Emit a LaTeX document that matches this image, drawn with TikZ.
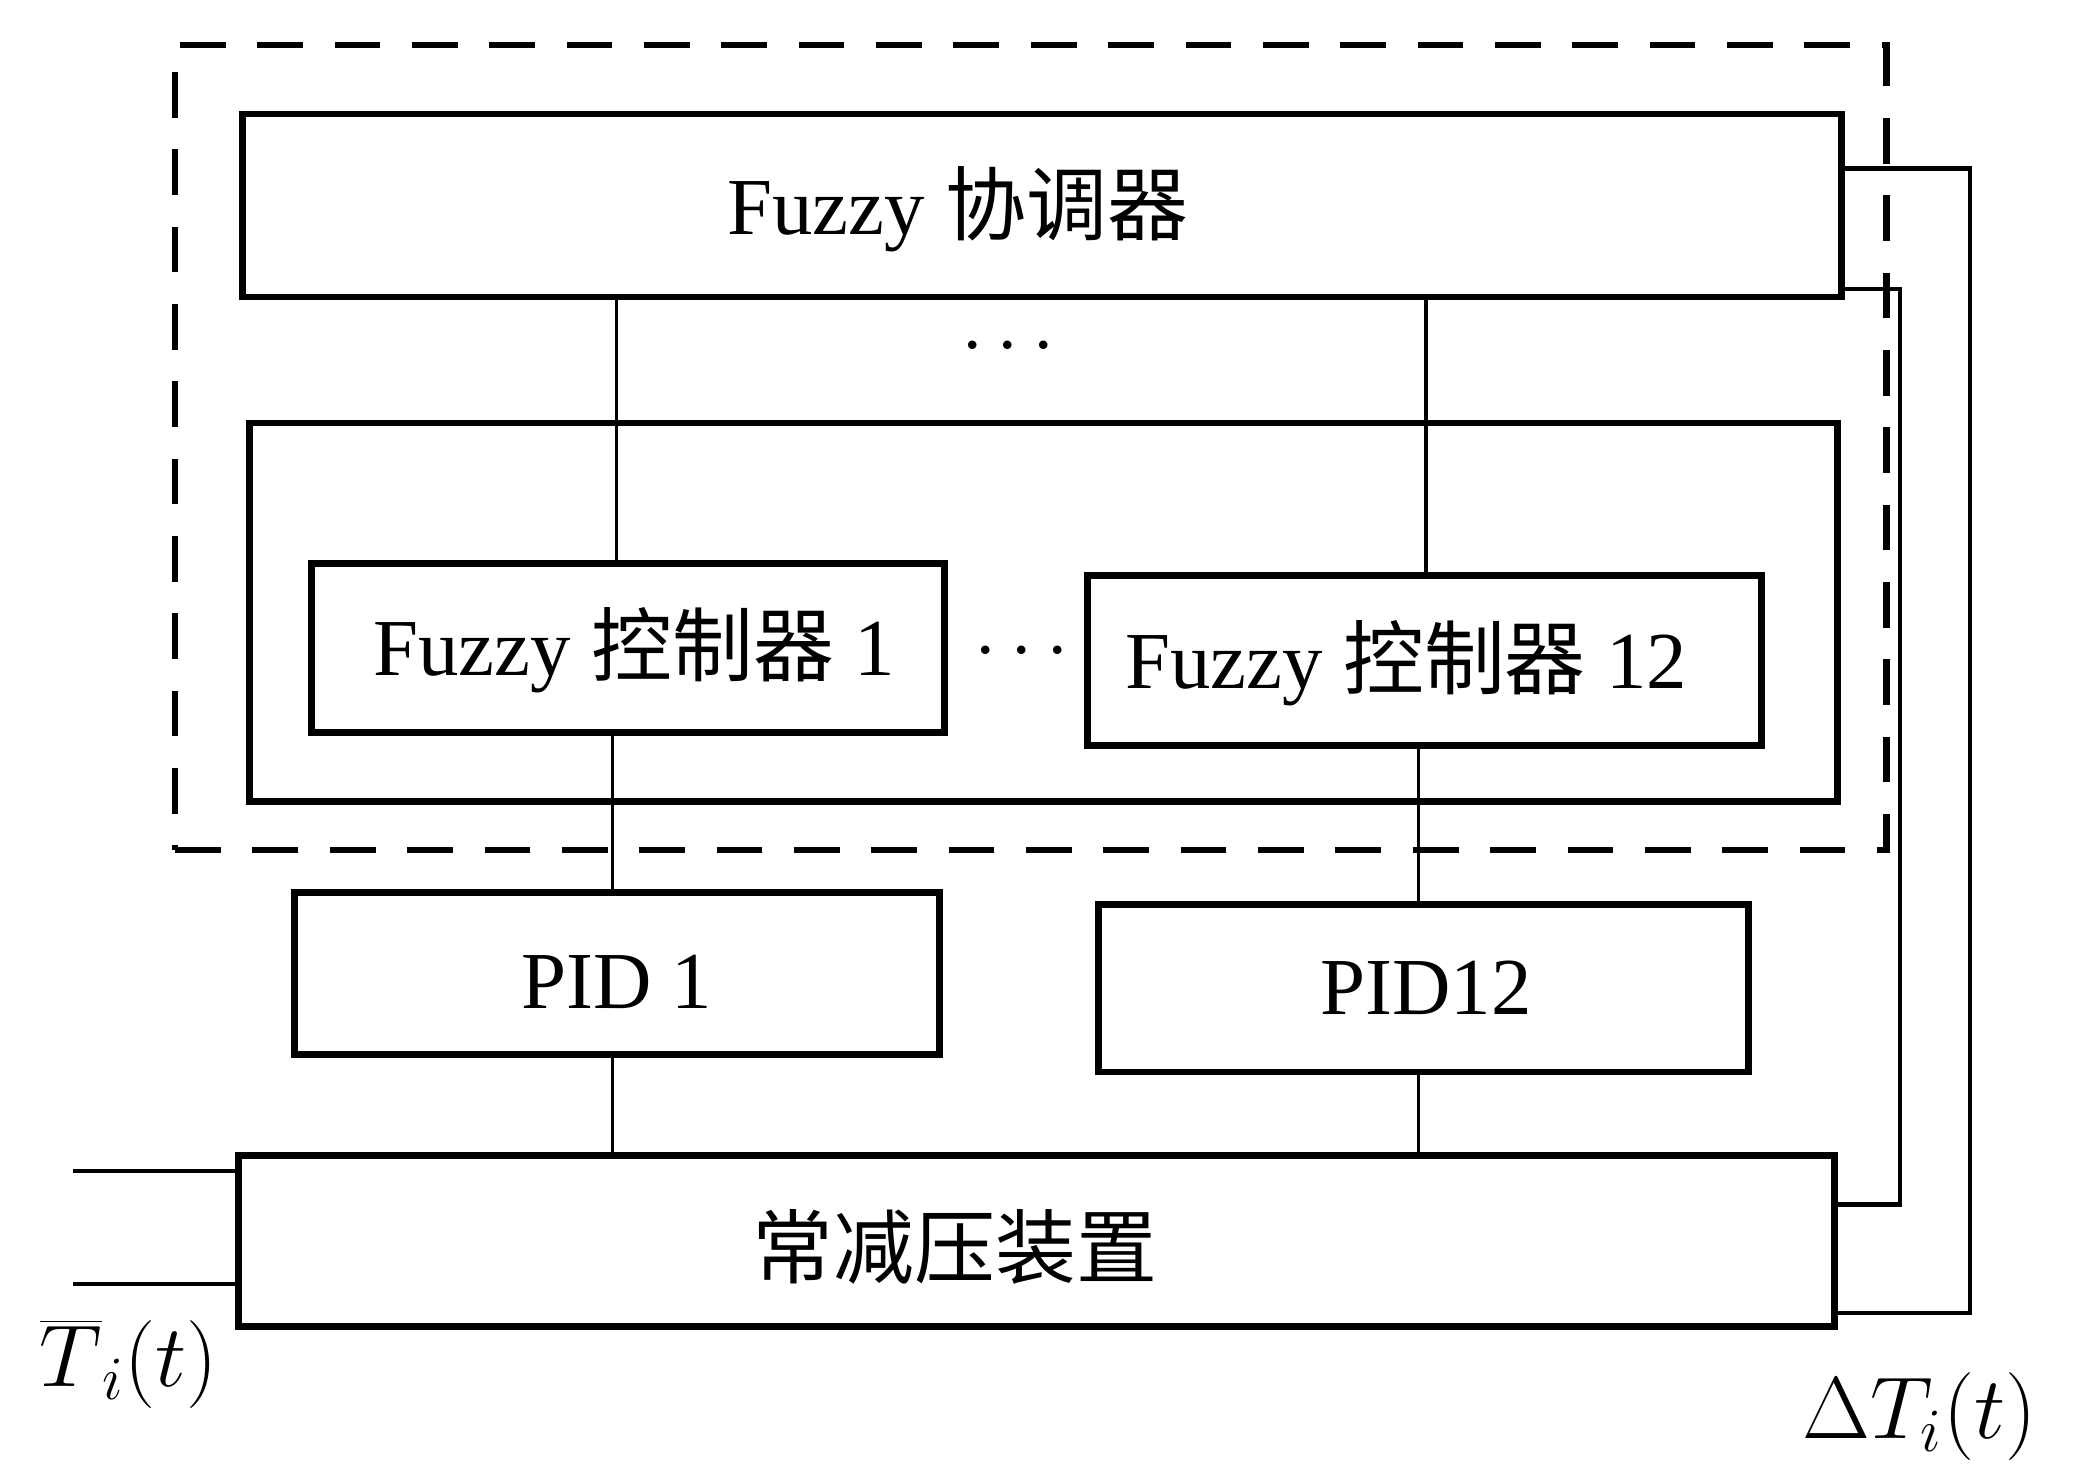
\documentclass[tikz,border=0pt]{standalone}
\usepackage{fix-cm}
\usepackage{fontspec}
\setmainfont{Liberation Serif}
\newfontfamily\cjk{Noto Sans CJK SC}
\usetikzlibrary{fit}
\begin{document}
\begin{tikzpicture}[x=0.013265cm, y=-0.013265cm,
  box/.style={draw, line width=1.9pt, inner sep=0pt},
  dashbox/.style={draw, line width=1.8pt, dash pattern=on 13pt off 9pt, inner sep=0pt},
  conn/.style={line width=0.9pt},
  fb/.style={line width=1.2pt},
  txt/.style={font=\fontsize{23}{27}\selectfont, inner sep=0pt},
  lbl/.style={font=\fontsize{25}{30}\selectfont, inner sep=0pt}]
\useasboundingbox (0,0) rectangle (1568,1104);
% dashed group
\node[dashbox, fit={(132,34) (1422,641)}] (group) {};
% boxes
\node[box, fit={(183,86) (1388,224)}] (coord) {};
\node[box, fit={(188,319) (1385,604)}] (inner) {};
\node[box, fit={(235,425) (712,552)}] (fc1) {};
\node[box, fit={(820,434) (1328,562)}] (fc12) {};
\node[box, fit={(222,673) (708,795)}] (pid1) {};
\node[box, fit={(828,682) (1318,808)}] (pid12) {};
\node[box, fit={(180,871) (1383,1000)}] (dev) {};
% texts
\node[txt] (coordtxt) at (722,158) {Fuzzy {\cjk 协调器}};
\node[txt] (fc1txt) at (478,490) {Fuzzy {\cjk 控制器} 1};
\node[txt] (fc12txt) at (1060,500) {Fuzzy {\cjk 控制器} 12};
\node[txt] (pid1txt) at (465,740) {PID 1};
\node[txt] (pid12txt) at (1075,745) {PID12};
\node[txt] (devtxt) at (720,940) {\cjk 常减压装置};
\node[txt] (dots1) at (760,262) {$\cdots$};
\node[txt] (dots2) at (770,492) {$\cdots$};
% connectors
\coordinate (xa) at (465,0);
\coordinate (xb) at (1075,0);
\coordinate (xc) at (462,0);
\coordinate (xd) at (1069,0);
\draw[conn] (coord.south -| xa) -- (fc1.north -| xa);
\draw[conn] (coord.south -| xb) -- (fc12.north -| xb);
\draw[conn] (fc1.south -| xc) -- (pid1.north -| xc);
\draw[conn] (fc12.south -| xd) -- (pid12.north -| xd);
\draw[conn] (pid1.south -| xc) -- (dev.north -| xc);
\draw[conn] (pid12.south -| xd) -- (dev.north -| xd);
% inputs
\coordinate (in1) at (55,883);
\coordinate (in2) at (55,968);
\draw[fb] (in1) -- (in1 -| dev.west);
\draw[fb] (in2) -- (in2 -| dev.west);
% feedback
\draw[fb] (dev.east |- 0,908) -- (1432,908) -- (1432,218) -- (coord.east |- 0,218);
\draw[fb] (dev.east |- 0,990) -- (1485,990) -- (1485,127) -- (coord.east |- 0,127);
% labels
\node[lbl] (tin) at (97,1028) {$\overline{T}_i(t)$};
\node[lbl] (dtout) at (1447,1068) {$\Delta T_i(t)$};
\end{tikzpicture}
\end{document}
